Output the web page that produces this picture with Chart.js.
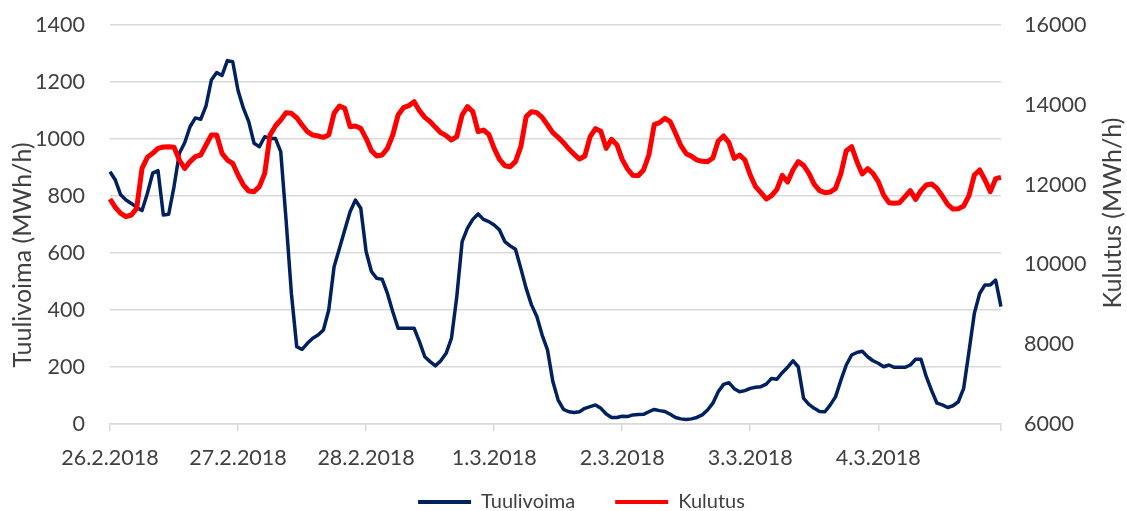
<!DOCTYPE html>
<html>
<head>
<meta charset="utf-8">
<script src="https://cdn.jsdelivr.net/npm/chart.js@4.4.1/dist/chart.umd.min.js"></script>
<style>
  html, body { margin: 0; padding: 0; background: #ffffff; }
  #wrap { width: 1127px; height: 511px; position: relative; }
</style>
</head>
<body>
<div id="wrap"><canvas id="c" width="1127" height="511"></canvas></div>
<script>
// Day labels (one per 24 hourly points)
const dayLabels = ['26.2.2018', '27.2.2018', '28.2.2018', '1.3.2018', '2.3.2018', '3.3.2018', '4.3.2018'];

// Axis titles
const leftTitle = 'Tuulivoima (MWh/h)';
const rightTitle = 'Kulutus (MWh/h)';

// Tuulivoima (MWh/h), hourly
const tuulivoima = [
  885, 856, 804, 786, 774, 760, 749, 809, 880, 889, 733, 736, 833, 950, 987, 1043, 1074, 1069, 1116, 1207, 1233, 1223, 1275, 1271,
  1170, 1108, 1061, 985, 973, 1008, 1002, 1002, 956, 716, 458, 271, 262, 283, 301, 312, 330, 400, 552, 616, 681, 745, 786, 757,
  605, 535, 511, 508, 458, 394, 336, 336, 336, 336, 289, 236, 219, 204, 222, 248, 301, 447, 640, 687, 718, 737, 718, 710,
  698, 681, 640, 625, 613, 546, 476, 418, 377, 312, 260, 149, 84, 51, 43, 40, 43, 55, 61, 67, 55, 35, 23, 23,
  27, 26, 32, 33, 34, 43, 51, 47, 44, 34, 23, 18, 16, 18, 23, 32, 49, 73, 113, 139, 145, 124, 113, 117,
  125, 129, 131, 140, 160, 157, 180, 199, 222, 201, 90, 69, 55, 44, 43, 67, 96, 154, 207, 242, 251, 255, 236, 222,
  213, 201, 207, 199, 199, 199, 207, 227, 227, 166, 117, 73, 67, 58, 64, 78, 125, 254, 388, 458, 488, 488, 505, 412
];

// Kulutus (MWh/h), hourly
const kulutus = [
  11639, 11430, 11280, 11196, 11238, 11405, 12408, 12683, 12783, 12909, 12942, 12950, 12934, 12616, 12408, 12575, 12700, 12742, 12992, 13243, 13243, 12783, 12616, 12533,
  12240, 11990, 11839, 11823, 11948, 12282, 13243, 13468, 13619, 13803, 13786, 13677, 13494, 13326, 13243, 13218, 13184, 13243, 13786, 13970, 13911, 13452, 13468, 13410,
  13159, 12850, 12717, 12742, 12909, 13243, 13744, 13928, 13978, 14078, 13853, 13686, 13577, 13435, 13301, 13226, 13118, 13201, 13744, 13953, 13828, 13326, 13368, 13259,
  12909, 12633, 12474, 12449, 12575, 12950, 13702, 13828, 13803, 13686, 13494, 13301, 13184, 13051, 12892, 12758, 12641, 12717, 13201, 13402, 13335, 12909, 13134, 13001,
  12633, 12391, 12232, 12224, 12366, 12742, 13502, 13552, 13661, 13577, 13285, 12976, 12775, 12708, 12616, 12583, 12575, 12667, 13093, 13218, 13051, 12658, 12742, 12616,
  12240, 11948, 11798, 11639, 11722, 11881, 12232, 12065, 12366, 12575, 12483, 12282, 12007, 11848, 11798, 11814, 11906, 12282, 12850, 12950, 12575, 12266, 12399, 12282,
  12073, 11739, 11547, 11530, 11547, 11697, 11848, 11631, 11848, 11990, 12015, 11906, 11714, 11505, 11388, 11397, 11464, 11722, 12240, 12366, 12115, 11823, 12149, 12182
];

// Hourly category labels built from the day labels
const categories = [];
dayLabels.forEach(d => { for (let h = 0; h < 24; h++) categories.push(d + ' ' + h + ':00'); });

const FONT = 'Lato, "Open Sans", sans-serif';
const TXT = '#404040';
const GRID = '#d9d9d9';

// Axis titles drawn rotated (both read bottom-to-top, as in the original)
const axisTitles = {
  id: 'axisTitles',
  afterLayout(chart) {
    // the original's legend sits slightly right of the canvas centre
    if (chart.legend) { chart.legend.left += 18; chart.legend.right += 18; }
  },
  afterDraw(chart) {
    const ctx = chart.ctx;
    ctx.save();
    ctx.fillStyle = TXT;
    ctx.font = '25px ' + FONT;
    ctx.textAlign = 'center';
    ctx.textBaseline = 'middle';
    ctx.save();
    ctx.translate(23, 255);
    ctx.rotate(-Math.PI / 2);
    ctx.fillText(leftTitle, 0, 0);
    ctx.restore();
    ctx.save();
    ctx.translate(1113, 213);
    ctx.rotate(-Math.PI / 2);
    ctx.fillText(rightTitle, 0, 0);
    ctx.restore();
    ctx.restore();
  }
};

new Chart(document.getElementById('c'), {
  type: 'line',
  data: {
    labels: categories,
    datasets: [
      {
        label: 'Tuulivoima',
        data: tuulivoima,
        yAxisID: 'y',
        borderColor: '#002060',
        backgroundColor: '#002060',
        borderWidth: 3.5,
        pointRadius: 0,
        tension: 0,
        borderJoinStyle: 'round',
        order: 1
      },
      {
        label: 'Kulutus',
        data: kulutus,
        yAxisID: 'y2',
        borderColor: '#ff0000',
        backgroundColor: '#ff0000',
        borderWidth: 5,
        pointRadius: 0,
        tension: 0,
        borderJoinStyle: 'round',
        order: 0
      }
    ]
  },
  plugins: [axisTitles],
  options: {
    responsive: false,
    animation: false,
    devicePixelRatio: 1,
    layout: { padding: { top: 25, bottom: -11, left: 0, right: 0 } },
    plugins: {
      tooltip: { enabled: false },
      legend: {
        position: 'bottom',
        labels: {
          font: { family: FONT, size: 20, lineHeight: 1 },
          color: TXT,
          boxWidth: 53,
          boxHeight: 4,
          padding: 40,
          sort: (a, b) => a.datasetIndex - b.datasetIndex,
          generateLabels: (chart) => chart.data.datasets.map((ds, i) => ({
            text: ds.label,
            fillStyle: ds.borderColor,
            strokeStyle: ds.borderColor,
            lineWidth: 0,
            hidden: false,
            datasetIndex: i,
            fontColor: TXT
          }))
        }
      }
    },
    scales: {
      x: {
        type: 'category',
        offset: false,
        grid: {
          display: true,
          drawOnChartArea: false,
          drawTicks: true,
          tickLength: 7,
          color: GRID,
          lineWidth: 1.5
        },
        border: { display: true, color: GRID, width: 1.5 },
        ticks: {
          autoSkip: false,
          maxRotation: 0,
          minRotation: 0,
          padding: 14,
          color: TXT,
          font: { family: FONT, size: 21.5 },
          callback: function (value, index) {
            if (index % 24 === 0) return dayLabels[index / 24];
            if (index === categories.length - 1) return '';
            return null;
          }
        },
        afterFit: (s) => { s.height = 28; },
        afterUpdate: (s) => { s._computeLabelArea = () => undefined; }
      },
      y: {
        position: 'left',
        min: 0,
        max: 1400,
        ticks: { stepSize: 200, color: TXT, font: { family: FONT, size: 21.5 }, padding: 3,
                 callback: (v) => String(v) },
        grid: { color: GRID, lineWidth: 1.5, drawTicks: true, tickLength: 22, tickColor: 'rgba(0,0,0,0)' },
        border: { display: false },
        afterFit: (s) => { s.width = 110; }
      },
      y2: {
        position: 'right',
        min: 6000,
        max: 16000,
        ticks: { stepSize: 2000, color: TXT, font: { family: FONT, size: 21.5 }, padding: 2,
                 callback: (v) => String(v) },
        grid: { drawOnChartArea: false, display: false, drawTicks: true, tickLength: 21 },
        border: { display: false },
        afterFit: (s) => { s.width = 126; }
      }
    }
  }
});
</script>
</body>
</html>
